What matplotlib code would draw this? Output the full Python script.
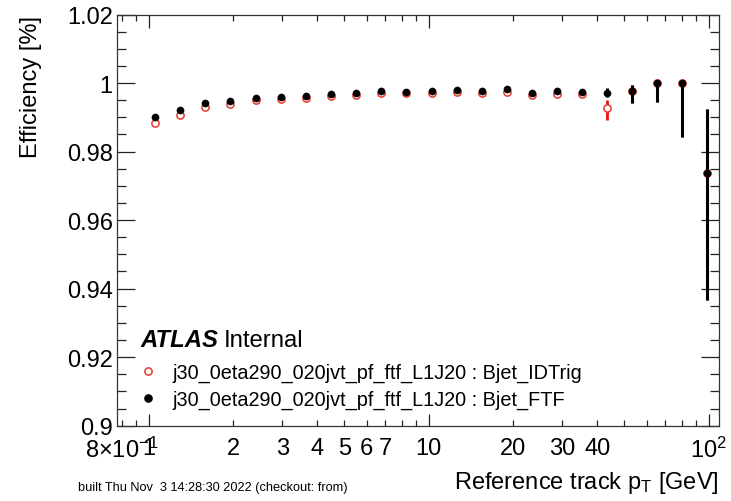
import matplotlib
matplotlib.use('Agg')
import matplotlib.pyplot as plt
from matplotlib.lines import Line2D
from matplotlib.ticker import FixedLocator, MultipleLocator, FuncFormatter
import numpy as np

plt.rcParams['font.family'] = ['Liberation Sans', 'DejaVu Sans']
plt.rcParams['mathtext.fontset'] = 'custom'
plt.rcParams['mathtext.rm'] = 'Liberation Sans'
plt.rcParams['mathtext.it'] = 'Liberation Sans:italic'
plt.rcParams['mathtext.bf'] = 'Liberation Sans:bold'

# reference track pT bin centres [GeV]
pt = [1.053, 1.294, 1.589, 1.951, 2.407, 2.955, 3.631, 4.460, 5.500, 6.755,
      8.297, 10.23, 12.62, 15.50, 19.04, 23.38, 28.72, 35.28, 43.33, 53.22,
      65.37, 80.30, 98.6]

# Bjet_IDTrig
eff_idt = [0.9884, 0.9907, 0.9931, 0.9939, 0.9950, 0.9954, 0.9955, 0.9963,
           0.9965, 0.9972, 0.9972, 0.9972, 0.9975, 0.9970, 0.9973, 0.9965,
           0.9969, 0.9969, 0.9926, 0.9977, 1.0, 1.0, 0.9737]
err_idt_lo = [0.0005, 0.0005, 0.0004, 0.0004, 0.0004, 0.0004, 0.0004, 0.0004,
              0.0004, 0.0004, 0.0004, 0.0004, 0.0004, 0.0004, 0.0004, 0.0005,
              0.0005, 0.0006, 0.0033, 0.0035, 0.0055, 0.0158, 0.0370]
err_idt_hi = [0.0005, 0.0005, 0.0004, 0.0004, 0.0004, 0.0004, 0.0004, 0.0004,
              0.0004, 0.0004, 0.0004, 0.0004, 0.0004, 0.0004, 0.0004, 0.0005,
              0.0005, 0.0006, 0.0025, 0.0017, 0.0, 0.0, 0.0187]

# Bjet_FTF
eff_ftf = [0.9902, 0.9921, 0.9942, 0.9947, 0.9956, 0.9960, 0.9963, 0.9969,
           0.9972, 0.9976, 0.9975, 0.9977, 0.9980, 0.9976, 0.9982, 0.9971,
           0.9976, 0.9975, 0.9971, 0.9977, 1.0, 1.0, 0.9737]
err_ftf_lo = [0.0004, 0.0004, 0.0003, 0.0003, 0.0003, 0.0003, 0.0003, 0.0003,
              0.0003, 0.0003, 0.0003, 0.0003, 0.0003, 0.0003, 0.0003, 0.0004,
              0.0004, 0.0005, 0.0013, 0.0035, 0.0055, 0.0158, 0.0370]
err_ftf_hi = [0.0004, 0.0004, 0.0003, 0.0003, 0.0003, 0.0003, 0.0003, 0.0003,
              0.0003, 0.0003, 0.0003, 0.0003, 0.0003, 0.0003, 0.0003, 0.0004,
              0.0004, 0.0005, 0.0014, 0.0017, 0.0, 0.0, 0.0187]

label_idt = 'j30_0eta290_020jvt_pf_ftf_L1J20 : Bjet_IDTrig'
label_ftf = 'j30_0eta290_020jvt_pf_ftf_L1J20 : Bjet_FTF'

x_major = [1, 10, 100]
x_major_labels = ['1', '10', '10$^{2}$']
x_minor = [0.8, 0.9, 2, 3, 4, 5, 6, 7, 8, 9, 20, 30, 40, 50, 60, 70, 80, 90]
x_minor_labels = ['8\u00d710$^{-1}$', '', '2', '3', '4', '5', '6', '7', '', '',
                  '20', '30', '40', '', '', '', '', '']

W, H = 731, 502
fig = plt.figure(figsize=(W / 100, H / 100), dpi=100)
ax = fig.add_axes([117 / W, 1 - 426.7 / H, 602 / W, 411.2 / H])

red = '#e4392c'
ax.errorbar(pt, eff_idt, yerr=[err_idt_lo, err_idt_hi], fmt='o', ms=5.2,
            mfc='white', mec=red, mew=1.1, ecolor='#f01010', elinewidth=2.0,
            capsize=0, zorder=2)
ax.errorbar(pt, eff_ftf, yerr=[err_ftf_lo, err_ftf_hi], fmt='o', ms=5.2,
            mfc='black', mec='black', mew=0.3, ecolor='black', elinewidth=2.2,
            capsize=0, zorder=3)

ax.set_xscale('log')
ax.set_xlim(0.770, 108.8)
ax.set_ylim(0.9, 1.02)

ax.xaxis.set_major_locator(FixedLocator(x_major))
ax.set_xticks(x_major, x_major_labels)
ax.set_xticks(x_minor, x_minor_labels, minor=True)
ax.yaxis.set_major_locator(MultipleLocator(0.02))
ax.yaxis.set_minor_locator(MultipleLocator(0.005))
ax.yaxis.set_major_formatter(FuncFormatter(lambda v, p: f'{v:.2f}'.rstrip('0').rstrip('.')))

ax.tick_params(axis='both', which='both', direction='in', top=True, right=True,
               labelsize=17, width=0.9, color='#222222')
ax.tick_params(axis='x', which='major', length=9, pad=8)
ax.tick_params(axis='x', which='minor', length=4.5, pad=8)
ax.tick_params(axis='y', which='major', length=13, pad=3)
ax.tick_params(axis='y', which='minor', length=6.5)
for s in ax.spines.values():
    s.set_linewidth(0.9)
    s.set_color('#333333')

ax.set_ylabel('Efficiency [%]', fontsize=17, loc='top')
ax.yaxis.set_label_coords(-0.125, 1.0)
ax.set_xlabel('Reference track p$_{\\mathrm{T}}$ [GeV]', fontsize=17, loc='right')
ax.xaxis.set_label_coords(1.0, -0.105)

handles = [Line2D([], [], ls='none', marker='o', ms=5.2, mfc='white', mec=red, mew=1.1),
           Line2D([], [], ls='none', marker='o', ms=5.2, mfc='black', mec='black')]
ax.legend(handles, [label_idt, label_ftf], loc='upper left', frameon=False,
          fontsize=14.3, handlelength=1.0, handletextpad=0.71, labelspacing=0.37,
          borderpad=0, borderaxespad=0,
          bbox_to_anchor=(138 / W, 1 - 364 / H), bbox_transform=fig.transFigure)

t1 = fig.text(140 / W, 1 - 341 / H, 'ATLAS', fontsize=17.2, fontweight='bold',
              fontstyle='italic', va='center', ha='left')
ax.annotate('Internal', xy=(1, 0), xycoords=t1, xytext=(4, 0),
            textcoords='offset points', fontsize=17.2, va='bottom', ha='left')

fig.text(78 / W, 1 - 488 / H, 'built Thu Nov  3 14:28:30 2022 (checkout: from)',
         fontsize=9.2, va='center', ha='left')

fig.savefig('out.png', dpi=100)
